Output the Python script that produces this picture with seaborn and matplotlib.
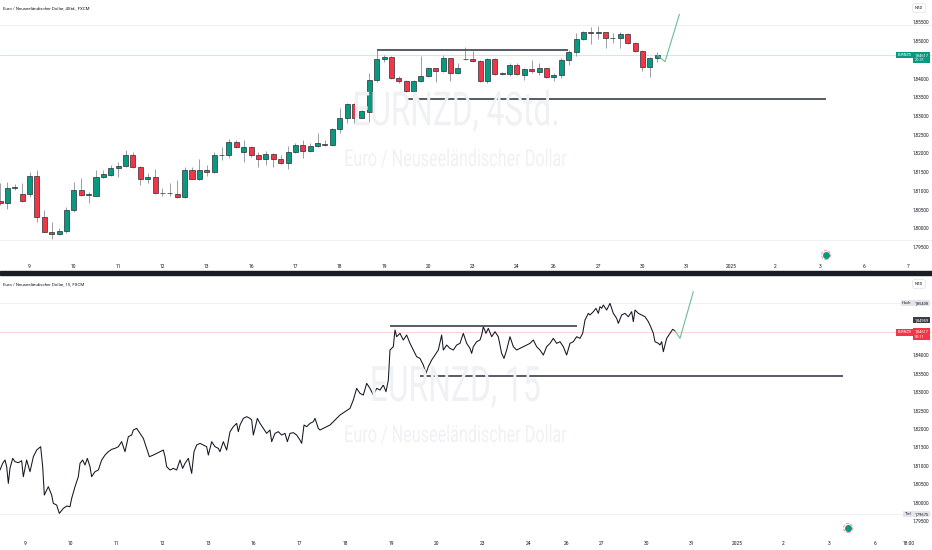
import numpy as np
import pandas as pd
import matplotlib
matplotlib.use('Agg')
import matplotlib.pyplot as plt
import matplotlib.transforms as mtrans
from matplotlib.patches import Rectangle, PathPatch
from matplotlib.textpath import TextPath
from matplotlib.font_manager import FontProperties
from matplotlib.ticker import FuncFormatter
import seaborn as sns

# ---- 4h candles (EURNZD) ----
opens = [1.80728, 1.80659, 1.81080, 1.80899, 1.80899, 1.81396, 1.80285, 1.79885, 1.79839, 1.79919,
         1.80480, 1.81014, 1.80880, 1.80862, 1.81353, 1.81415, 1.81594, 1.81655, 1.81949, 1.81636,
         1.81308, 1.81369, 1.80926, 1.80930, 1.80907, 1.80835, 1.81548, 1.81308, 1.81548, 1.81487,
         1.81950, 1.81949, 1.82304, 1.82021, 1.82154, 1.81949, 1.81842, 1.81967, 1.81834, 1.81727,
         1.82037, 1.82215, 1.82063, 1.82197, 1.82242, 1.82215, 1.82643, 1.82944, 1.83302, 1.82944,
         1.83105, 1.83951, 1.84504, 1.84557, 1.83996, 1.83924, 1.83657, 1.83924, 1.84066, 1.84263,
         1.84191, 1.84530, 1.84130, 1.84512, 1.84512, 1.84458, 1.83932, 1.84504, 1.84103, 1.84103,
         1.84351, 1.84084, 1.84237, 1.84173, 1.84263, 1.84023, 1.84084, 1.84485, 1.84691, 1.85038,
         1.85225, 1.85198, 1.85225, 1.85070, 1.85064, 1.85179, 1.84947, 1.84733, 1.84306, 1.84530]
highs = [1.81201, 1.81236, 1.81174, 1.81209, 1.81487, 1.81548, 1.80480, 1.80168, 1.79991, 1.80552,
         1.81236, 1.81326, 1.80969, 1.81548, 1.81548, 1.81681, 1.81770, 1.82082, 1.82037, 1.81655,
         1.81460, 1.81567, 1.81059, 1.81209, 1.81281, 1.81636, 1.81636, 1.81834, 1.81681, 1.82037,
         1.82170, 1.82368, 1.82349, 1.82349, 1.82189, 1.82037, 1.82063, 1.81994, 1.81949, 1.82189,
         1.82261, 1.82349, 1.82261, 1.82528, 1.82349, 1.82670, 1.83195, 1.83329, 1.83329, 1.83150,
         1.84130, 1.84752, 1.84618, 1.84592, 1.84058, 1.83951, 1.83951, 1.84592, 1.84306, 1.84279,
         1.84618, 1.84546, 1.84413, 1.84824, 1.84733, 1.84485, 1.84530, 1.84546, 1.84173, 1.84413,
         1.84413, 1.84263, 1.84485, 1.84413, 1.84279, 1.84130, 1.84538, 1.84752, 1.85206, 1.85259,
         1.85374, 1.85393, 1.85230, 1.85198, 1.85225, 1.85198, 1.84974, 1.84752, 1.84573, 1.84707]
lows = [1.80613, 1.80499, 1.81014, 1.80700, 1.80819, 1.80168, 1.79880, 1.79706, 1.79813, 1.79858,
        1.80435, 1.80854, 1.80675, 1.80850, 1.81326, 1.81388, 1.81369, 1.81636, 1.81593, 1.81147,
        1.81193, 1.80907, 1.80854, 1.80854, 1.80808, 1.80808, 1.81300, 1.81281, 1.81388, 1.81460,
        1.81815, 1.81860, 1.82127, 1.81770, 1.81903, 1.81620, 1.81681, 1.81636, 1.81708, 1.81567,
        1.82010, 1.81860, 1.82021, 1.82170, 1.82189, 1.82189, 1.82544, 1.82811, 1.82811, 1.82928,
        1.82838, 1.83898, 1.84440, 1.83978, 1.83879, 1.83639, 1.83639, 1.83906, 1.84023, 1.83906,
        1.84157, 1.83924, 1.84103, 1.84485, 1.84440, 1.83906, 1.83879, 1.84084, 1.84084, 1.84066,
        1.84084, 1.83951, 1.84146, 1.84084, 1.84010, 1.83924, 1.84004, 1.84351, 1.84592, 1.85019,
        1.84904, 1.85038, 1.84813, 1.84931, 1.84813, 1.84904, 1.84707, 1.84191, 1.84039, 1.84440]
closes = [1.80659, 1.81075, 1.81086, 1.80712, 1.81396, 1.80285, 1.79885, 1.79839, 1.79919, 1.80480,
          1.81014, 1.80880, 1.80895, 1.81353, 1.81433, 1.81594, 1.81655, 1.81949, 1.81636, 1.81308,
          1.81369, 1.80926, 1.80934, 1.80936, 1.80835, 1.81548, 1.81308, 1.81548, 1.81487, 1.81957,
          1.81957, 1.82304, 1.82154, 1.82154, 1.81949, 1.81842, 1.81967, 1.81834, 1.81727, 1.82037,
          1.82215, 1.82063, 1.82189, 1.82261, 1.82215, 1.82643, 1.82944, 1.83302, 1.82944, 1.83123,
          1.83951, 1.84504, 1.84557, 1.83996, 1.83924, 1.83657, 1.83924, 1.84066, 1.84263, 1.84191,
          1.84530, 1.84130, 1.84263, 1.84504, 1.84458, 1.83932, 1.84504, 1.84103, 1.84130, 1.84351,
          1.84103, 1.84237, 1.84191, 1.84263, 1.84023, 1.84084, 1.84485, 1.84691, 1.85038, 1.85225,
          1.85198, 1.85225, 1.85080, 1.85064, 1.85179, 1.84947, 1.84733, 1.84306, 1.84530, 1.84617]

# ---- 15 min line (time in trading days from left edge, price) ----
t15 = [0.000, 0.058, 0.109, 0.146, 0.182, 0.218, 0.277, 0.328, 0.400, 0.473, 0.509, 0.582, 0.655,
       0.728, 0.801, 0.888, 0.932, 0.968, 1.055, 1.128, 1.164, 1.237, 1.295, 1.383, 1.456, 1.528,
       1.565, 1.638, 1.710, 1.747, 1.805, 1.856, 1.907, 1.965, 2.001, 2.074, 2.147, 2.220, 2.293,
       2.365, 2.438, 2.511, 2.584, 2.656, 2.729, 2.802, 2.875, 2.911, 2.984, 3.057, 3.130, 3.202,
       3.261, 3.348, 3.421, 3.493, 3.566, 3.603, 3.639, 3.712, 3.785, 3.857, 3.930, 3.988, 4.039,
       4.112, 4.185, 4.236, 4.294, 4.367, 4.440, 4.512, 4.549, 4.622, 4.694, 4.767, 4.803, 4.876,
       4.949, 5.022, 5.095, 5.167, 5.204, 5.240, 5.313, 5.386, 5.459, 5.495, 5.531, 5.568, 5.619,
       5.677, 5.750, 5.822, 5.895, 5.932, 6.004, 6.077, 6.150, 6.223, 6.274, 6.332, 6.405, 6.477,
       6.550, 6.587, 6.638, 6.696, 6.769, 6.841, 6.878, 6.950, 6.987, 7.205, 7.424,
       7.642, 7.714, 7.787, 7.860, 7.933, 8.006, 8.078, 8.151, 8.224, 8.297, 8.370, 8.428, 8.479,
       8.515, 8.588, 8.624, 8.661, 8.733, 8.806, 8.879, 8.952, 9.025, 9.097, 9.170, 9.243, 9.301,
       9.352, 9.425, 9.498, 9.570, 9.643, 9.680, 9.752, 9.825, 9.898, 9.971, 10.043, 10.116, 10.189,
       10.262, 10.298, 10.335, 10.407, 10.480, 10.517, 10.553, 10.611, 10.662, 10.735, 10.808,
       10.880, 10.953, 11.004, 11.062, 11.135, 11.208, 11.281, 11.354, 11.426, 11.499, 11.572,
       11.645, 11.717, 11.790, 11.863, 11.936, 12.009, 12.081, 12.154, 12.227, 12.300, 12.372,
       12.445, 12.518, 12.591, 12.664, 12.722, 12.773, 12.846, 12.882, 12.955, 13.013, 13.064,
       13.100, 13.137, 13.173, 13.246, 13.319, 13.391, 13.464, 13.501, 13.573, 13.646, 13.719,
       13.792, 13.828, 13.865, 13.937, 14.010, 14.083, 14.156, 14.207, 14.265, 14.301, 14.374,
       14.410, 14.447, 14.483, 14.556, 14.629, 14.687, 14.738]
p15 = [1.80877, 1.81058, 1.81149, 1.80967, 1.80514, 1.80922, 1.81194, 1.81103, 1.81076, 1.81130,
       1.80696, 1.81149, 1.80831, 1.81239, 1.81420, 1.81511, 1.80967, 1.80197, 1.80424, 1.80197,
       1.79971, 1.79925, 1.79699, 1.79835, 1.79898, 1.79880, 1.80107, 1.80424, 1.80696, 1.81058,
       1.81149, 1.81013, 1.81194, 1.80967, 1.80696, 1.80831, 1.80877, 1.81149, 1.81284, 1.81375,
       1.81439, 1.81466, 1.81511, 1.81647, 1.81375, 1.81783, 1.81828, 1.81964, 1.82009, 1.81873,
       1.81737, 1.81466, 1.81239, 1.81284, 1.81330, 1.81375, 1.81420, 1.81239, 1.80967, 1.80877,
       1.80922, 1.80877, 1.81149, 1.80922, 1.81058, 1.81194, 1.80786, 1.81375, 1.81556, 1.81602,
       1.81556, 1.81511, 1.81284, 1.81647, 1.81511, 1.81466, 1.81375, 1.81647, 1.81420, 1.81919,
       1.82055, 1.82145, 1.81919, 1.82100, 1.82281, 1.82326, 1.82281, 1.82236, 1.81828, 1.82009,
       1.82281, 1.82145, 1.82009, 1.81873, 1.81964, 1.81647, 1.81873, 1.81919, 1.81828, 1.81873,
       1.81647, 1.81873, 1.81892, 1.81828, 1.81692, 1.81602, 1.82100, 1.82055, 1.82145, 1.82190,
       1.82281, 1.82009, 1.81964, 1.82100, 1.82372,
       1.82552, 1.82779, 1.83096, 1.82960, 1.82915, 1.83232, 1.83096, 1.82915, 1.83096, 1.83051,
       1.83187, 1.83005, 1.83323, 1.84138, 1.84229, 1.84682, 1.84500, 1.84591, 1.84410, 1.84546,
       1.84319, 1.84138, 1.83957, 1.83911, 1.83730, 1.83504, 1.83685, 1.83866, 1.84002, 1.84138,
       1.84546, 1.84138, 1.84274, 1.84183, 1.84138, 1.84274, 1.84319, 1.84591, 1.84319, 1.84183,
       1.84047, 1.84229, 1.84364, 1.84410, 1.84546, 1.84772, 1.84591, 1.84727, 1.84500, 1.84636,
       1.84500, 1.84047, 1.83911, 1.84138, 1.84500, 1.84229, 1.84138, 1.84183, 1.84229, 1.84274,
       1.84319, 1.84410, 1.84229, 1.84138, 1.84002, 1.84229, 1.84319, 1.84455, 1.84319, 1.84364,
       1.84229, 1.84002, 1.84319, 1.84364, 1.84500, 1.84455, 1.84591, 1.84954, 1.85135, 1.85090,
       1.85180, 1.85271, 1.85135, 1.85316, 1.85271, 1.85361, 1.85225, 1.85407, 1.85135, 1.84999,
       1.84863, 1.85090, 1.85135, 1.85044, 1.85180, 1.84908, 1.85225, 1.85135, 1.85090, 1.85044,
       1.84908, 1.84773, 1.84591, 1.84365, 1.84320, 1.84274, 1.84365, 1.84093, 1.84455, 1.84591,
       1.84700, 1.84660]

# projections (green) and drawn levels: (price, start, end)
proj4_x = [89, 90.05, 92.0]
proj4_p = [1.84617, 1.84439, 1.85705]
proj15_t = [14.738, 14.847, 15.138]
proj15_p = [1.84660, 1.84455, 1.85724]
res4 = (1.84760, 51.0, 76.95)
sup4 = (1.83435, 55.07, 111.9)
res15 = (1.84799, 8.515, 12.59)
sup15 = (1.83440, 9.17, 18.41)

last_price = 1.84617
hoch, tief = 1.85408, 1.79675
marker15 = 1.84959

ticks4 = [4, 10, 16, 22, 28, 34, 40, 46, 52, 58, 64, 70, 75, 81, 87, 93, 99, 105, 111, 117, 123]
ticks15 = [0.54, 1.54, 2.54, 3.54, 4.54, 5.54, 6.54, 7.54, 8.54, 9.54, 10.54, 11.54, 12.36,
           13.14, 14.11, 15.10, 16.10, 17.10, 18.10, 19.10, 19.85]
labels4 = ['9', '10', '11', '12', '13', '16', '17', '18', '19', '20', '23', '24', '26', '27',
           '30', '31', '2025', '2', '3', '6', '7']
labels15 = labels4[:-1] + ['18:00']

price_ticks4 = [1.855, 1.850, 1.840, 1.835, 1.830, 1.825, 1.820, 1.815, 1.810, 1.805, 1.800, 1.795]
price_ticks15 = [1.840, 1.835, 1.830, 1.825, 1.820, 1.815, 1.810, 1.805, 1.800, 1.795]

GREEN = '#089981'
RED = '#f23645'
INK = '#131722'
FAM = ['Roboto', 'DejaVu Sans']

sns.set_style('white')
plt.rcParams['font.family'] = FAM

W, H = 932, 550
fig = plt.figure(figsize=(W / 100, H / 100), dpi=100)


def rect(x0, y0, x1, y1):
    return [x0 / W, 1 - y1 / H, (x1 - x0) / W, (y1 - y0) / H]


ax4 = fig.add_axes(rect(0, 0, W, 260))
ax15 = fig.add_axes(rect(0, 276, W, 536))

comma = FuncFormatter(lambda v, _: '{:.5f}'.format(v).replace('.', ','))

for ax in (ax4, ax15):
    for s in ax.spines.values():
        s.set_visible(False)
    ax.yaxis.tick_right()
    ax.yaxis.set_major_formatter(comma)
    ax.tick_params(axis='y', length=0, pad=-2.2, labelsize=3.4, labelcolor=INK)
    ax.tick_params(axis='x', length=0, labelsize=3.5, labelcolor=INK)
    ax.grid(False)

# ---------------- upper panel: candles ----------------
df4 = pd.DataFrame({'o': opens, 'h': highs, 'l': lows, 'c': closes})
df4['x'] = np.arange(len(df4))
up = df4['c'] >= df4['o']
cols = np.where(up, GREEN, RED)
ax4.vlines(df4['x'], df4['l'], df4['h'], color='#8c8f98', lw=0.6, zorder=2)
ax4.bar(df4['x'], (df4['c'] - df4['o']).abs().clip(lower=0.00003),
        bottom=df4[['o', 'c']].min(axis=1), width=0.68, color=cols,
        edgecolor='#2b2f36', linewidth=0.5, zorder=3)

ax4.set_xlim(0, W / 7.385)
ax4.set_ylim(1.791442, 1.860868)
ax15.set_xlim(0, W / 45.8)
ax15.set_ylim(1.790840, 1.861496)

# high / low and last price lines
for ax in (ax4, ax15):
    ax.axhline(hoch, color='#f0f1f4', lw=0.7, zorder=0)
    ax.axhline(tief, color='#f0f1f4', lw=0.7, zorder=0)
ax4.axhline(last_price, color='#cfe9e3', lw=0.8, zorder=1)
ax15.axhline(last_price, color='#f9d3d6', lw=0.8, zorder=1)

# drawn levels
for ax, lv in ((ax4, res4), (ax4, sup4), (ax15, res15), (ax15, sup15)):
    ax.hlines(lv[0], lv[1], lv[2], color='#4a4e59', lw=1.3, zorder=4)

# projections
sns.lineplot(x=proj4_x, y=proj4_p, ax=ax4, color='#6cbf92', lw=0.8, sort=False, estimator=None, zorder=5)
sns.lineplot(x=proj15_t, y=proj15_p, ax=ax15, color='#6cbf92', lw=0.8, sort=False, estimator=None, zorder=5)

# ---------------- lower panel: 15 min line ----------------
df15 = pd.DataFrame({'t': t15, 'p': p15})
sns.lineplot(data=df15, x='t', y='p', ax=ax15, color=INK, lw=0.75, sort=False, estimator=None, zorder=3)

# ticks
ax4.set_xticks(ticks4, labels4)
ax15.set_xticks(ticks15, labels15)
ax4.tick_params(axis='x', pad=2.8)
ax15.tick_params(axis='x', pad=3.5)
ax4.set_yticks(price_ticks4)
ax15.set_yticks(price_ticks15)
for ax in (ax4, ax15):
    plt.setp(ax.get_yticklabels(), ha='right')
    ax.set_xlabel('')
    ax.set_ylabel('')


# watermarks, squeezed to the narrow look of the original
def squeezed(text, cx, cy, width, height):
    tp = TextPath((0, 0), text, size=100, prop=FontProperties(family='Roboto'))
    bb = tp.get_extents()
    tr = (mtrans.Affine2D().translate(-bb.x0 - bb.width / 2, -bb.y0 - bb.height / 2)
          .scale(width / bb.width, height / bb.height).translate(cx, H - cy))
    fig.add_artist(PathPatch(tr.transform_path(tp), transform=mtrans.IdentityTransform(),
                             fc='#eff1f4', ec='none', zorder=0.5))


squeezed('EURNZD, 4Std.', 456, 111, 202, 42)
squeezed('Euro / Neuseeländischer Dollar', 456, 158, 221, 19)
squeezed('EURNZD, 15', 456, 387, 167, 42)
squeezed('Euro / Neuseeländischer Dollar', 456, 434, 221, 19)
for ax in (ax4, ax15):
    ax.patch.set_alpha(0)

# headers
fig.text(3 / W, 1 - 8 / H, 'Euro / Neuseeländischer Dollar, 4Std., FXCM', fontsize=3.2,
         color=INK, va='center', ha='left')
fig.text(3 / W, 1 - 284 / H, 'Euro / Neuseeländischer Dollar, 15, FXCM', fontsize=3.2,
         color=INK, va='center', ha='left')
for yy in (8, 284):
    fig.text(919 / W, 1 - yy / H, 'NZD', fontsize=3.0, color=INK, ha='center', va='center',
             bbox=dict(boxstyle='round,pad=0.6', fc='white', ec='#e0e3eb', lw=0.5))

# separator between panels
fig.add_artist(Rectangle((0, 1 - 275 / H), 1, 4 / H, transform=fig.transFigure,
                         color='#1a1d24', zorder=10))


# right axis price boxes
def price_box(ax, xpx, y, txt, fc, tc, ha='left', va='center', size=2.9):
    tr = mtrans.blended_transform_factory(ax.transAxes, ax.transData)
    ax.text(xpx / W, y, txt, transform=tr, ha=ha, va=va, fontsize=size, color=tc, zorder=8,
            linespacing=1.35, clip_on=False,
            bbox=dict(boxstyle='square,pad=0.3', fc=fc, ec='none'))


price_box(ax4, 911.5, last_price, 'EURNZD', GREEN, 'white', ha='right', size=2.7)
price_box(ax4, 914.5, last_price + 0.0006, '1,84617\n20:31', GREEN, 'white', va='top')
price_box(ax15, 911.5, last_price, 'EURNZD', RED, 'white', ha='right', size=2.7)
price_box(ax15, 914.5, last_price + 0.0008, '1,84617\n05:11', RED, 'white', va='top')
price_box(ax15, 914.5, marker15, '1,84959', '#3b3e47', 'white')
price_box(ax15, 911.5, hoch, 'Hoch', '#e3e5ea', INK, ha='right')
price_box(ax15, 914.5, hoch, '1,85408', '#e3e5ea', INK)
price_box(ax15, 911.5, tief, 'Tief', '#e3e5ea', INK, ha='right')
price_box(ax15, 914.5, tief, '1,79675', '#e3e5ea', INK)

# event markers in the time strip
for ax, xf, yf in ((ax4, 826 / W, 5 / 260), (ax15, 848 / W, 8 / 260)):
    ax.scatter([xf], [yf], s=42, facecolor='none', edgecolor='#f28b93', linewidth=0.6,
               linestyle='--', transform=ax.transAxes, clip_on=False, zorder=9)
    ax.scatter([xf], [yf], s=16, color=GREEN, transform=ax.transAxes, clip_on=False, zorder=10)

fig.savefig('out.png', dpi=100, facecolor='white')
